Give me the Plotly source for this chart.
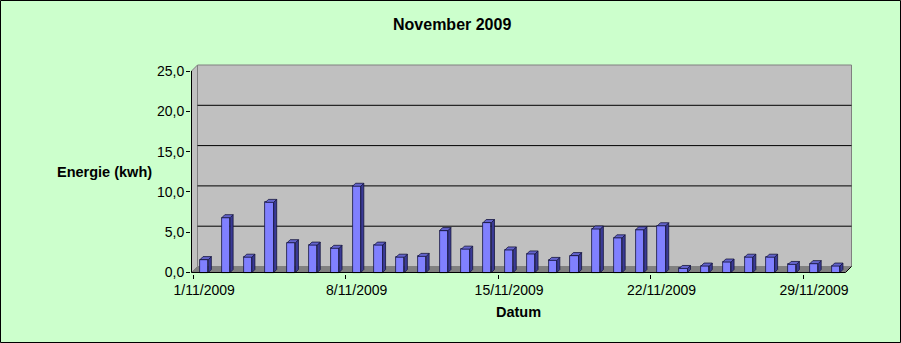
import plotly.graph_objects as go

# ---------------- data ----------------
dates = ["1/11/2009", "2/11/2009", "3/11/2009", "4/11/2009", "5/11/2009",
         "6/11/2009", "7/11/2009", "8/11/2009", "9/11/2009", "10/11/2009",
         "11/11/2009", "12/11/2009", "13/11/2009", "14/11/2009", "15/11/2009",
         "16/11/2009", "17/11/2009", "18/11/2009", "19/11/2009", "20/11/2009",
         "21/11/2009", "22/11/2009", "23/11/2009", "24/11/2009", "25/11/2009",
         "26/11/2009", "27/11/2009", "28/11/2009", "29/11/2009", "30/11/2009"]
energy = [1.6, 6.8, 1.9, 8.7, 3.7, 3.4, 3.0, 10.7, 3.4, 1.9,
          2.0, 5.2, 2.9, 6.2, 2.8, 2.3, 1.5, 2.1, 5.4, 4.3,
          5.3, 5.8, 0.5, 0.8, 1.3, 1.9, 1.9, 1.0, 1.1, 0.8]
x_tick_labels = ["1/11/2009", "8/11/2009", "15/11/2009", "22/11/2009", "29/11/2009"]
y_tick_values = [0, 5, 10, 15, 20, 25]
y_tick_labels = ["0,0", "5,0", "10,0", "15,0", "20,0", "25,0"]
grid_values = [5, 10, 15, 20]

# ---------------- geometry helpers ----------------
W, H = 901, 343
L, R_EDGE, T, B_EDGE = 191, 853, 63, 274     # plot area in pixels
SX = 21.78                                   # px per day
SY = 8.06                                    # px per kWh
C1 = 204.2                                   # pixel of first bar centre
Y0 = 272.5                                   # pixel of value 0

def px2x(p):
    return 1 + (p - C1) / SX

def px2y(p):
    return (Y0 - p) / SY

def ppx(p):
    return (p - L) / (R_EDGE - L)

def ppy(p):
    return (B_EDGE - p) / (B_EDGE - T)

XMIN, XMAX = px2x(L), px2x(R_EDGE)
YMIN, YMAX = px2y(B_EDGE), px2y(T)

XA = px2x(191.5)            # front-left (axis)
XR = px2x(851.5)            # back-right (wall)
DX = 6 / SX                 # wall depth
DY = 6 / SY
bdx = 3 / SX                # bar depth
bdy = 3 / SY
half = 0.19                 # half width of bar front

pos = [dates.index(d) + 1 for d in dates]
tick_pos = [dates.index(t) + 1 for t in x_tick_labels]

# ---------------- traces ----------------
side_x, side_y, top_x, top_y = [], [], [], []
for c, v in zip(pos, energy):
    side_x += [c + half, c + half + bdx, c + half + bdx, c + half, c + half, None]
    side_y += [0, bdy, v + bdy, v, 0, None]
    top_x += [c - half, c - half + bdx, c + half + bdx, c + half, c - half, None]
    top_y += [v, v + bdy, v + bdy, v, v, None]

fig = go.Figure()
fig.add_trace(go.Scatter(x=side_x, y=side_y, mode="lines", fill="toself",
                         fillcolor="#3A3A96", line=dict(color="#14143C", width=0.8),
                         hoverinfo="skip"))
fig.add_trace(go.Scatter(x=top_x, y=top_y, mode="lines", fill="toself",
                         fillcolor="#6464CC", line=dict(color="#14143C", width=0.8),
                         hoverinfo="skip"))
fig.add_trace(go.Bar(x=pos, y=energy, width=2 * half,
                     marker=dict(color="#8080FF", line=dict(color="#14143C", width=0.8)),
                     hovertext=dates))

# ---------------- decoration (walls, floor, axes) ----------------
shapes = []
# side wall
shapes.append(dict(type="path", xref="x", yref="y", layer="below",
                   path=f"M{XA},{0} L{XA},{25} L{XA+DX},{25+DY} L{XA+DX},{DY} Z",
                   fillcolor="#C0C0C0", line=dict(color="#808080", width=1)))
# back wall
shapes.append(dict(type="rect", xref="x", yref="y", layer="below",
                   x0=XA + DX, x1=XR, y0=DY, y1=25 + DY,
                   fillcolor="#C0C0C0", line=dict(color="#808080", width=1)))
# gridlines on back wall
for g in grid_values:
    shapes.append(dict(type="line", xref="x", yref="y", layer="below",
                       x0=XA + DX, x1=XR, y0=g + DY, y1=g + DY,
                       line=dict(color="black", width=1)))
# floor
shapes.append(dict(type="path", xref="x", yref="y", layer="below",
                   path=f"M{XA},0 L{XR-DX},0 L{XR},{DY} L{XA+DX},{DY} Z",
                   fillcolor="#808080", line=dict(color="#808080", width=0)))
# axis lines
shapes.append(dict(type="line", xref="x", yref="y", x0=XA, x1=XA, y0=0, y1=25,
                   line=dict(color="black", width=1)))
shapes.append(dict(type="path", xref="x", yref="y",
                   path=f"M{XA},0 L{XR-DX},0 L{XR},{DY}",
                   line=dict(color="black", width=1)))
# outer border
shapes.append(dict(type="rect", xref="paper", yref="paper",
                   x0=ppx(0.5), x1=ppx(W - 0.5), y0=ppy(H - 0.5), y1=ppy(0.5),
                   line=dict(color="black", width=1)))

annotations = [
    dict(text="<b>November 2009</b>", xref="paper", yref="paper",
         x=ppx(452), y=ppy(25), showarrow=False, font=dict(size=16),
         xanchor="center", yanchor="middle"),
    dict(text="<b>Energie (kwh)</b>", xref="paper", yref="paper",
         x=ppx(104), y=ppy(172), showarrow=False, font=dict(size=14.5),
         xanchor="center", yanchor="middle"),
    dict(text="<b>Datum</b>", xref="paper", yref="paper",
         x=ppx(518), y=ppy(312), showarrow=False, font=dict(size=14.5),
         xanchor="center", yanchor="middle"),
]

fig.update_layout(
    width=W, height=H,
    margin=dict(l=L, r=W - R_EDGE, t=T, b=H - B_EDGE, pad=0),
    paper_bgcolor="#CCFFCC", plot_bgcolor="rgba(0,0,0,0)",
    showlegend=False, bargap=0,
    font=dict(family="Liberation Sans, Arial, sans-serif", size=14, color="black"),
    shapes=shapes, annotations=annotations,
    xaxis=dict(range=[XMIN, XMAX], tickmode="array", tickvals=tick_pos,
               ticktext=x_tick_labels, ticks="outside", ticklen=3,
               tickcolor="rgba(0,0,0,0)", showgrid=False, zeroline=False,
               showline=False, fixedrange=True,
               minor=dict(tickmode="array",
                          tickvals=[p - 0.5 for p in tick_pos],
                          ticks="outside", ticklen=4, tickcolor="black",
                          tickwidth=1, showgrid=False)),
    yaxis=dict(range=[YMIN, YMAX], tickmode="array", tickvals=y_tick_values,
               ticktext=y_tick_labels, ticks="outside", ticklen=4,
               tickcolor="black", showgrid=False, zeroline=False,
               showline=False, fixedrange=True, ticklabelstandoff=-1),
)

fig.write_html("out.html")
